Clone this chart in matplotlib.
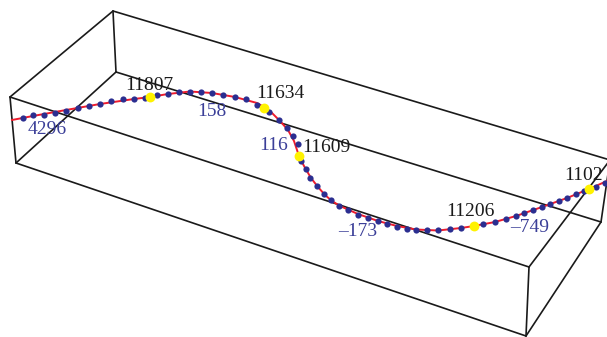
# -*- coding: utf-8 -*-
import matplotlib
import matplotlib.pyplot as plt

matplotlib.use("Agg")

# box corners, picture coordinates
corner_x = [10, 113, 16, 116, 529, 526, 610, 601]
corner_y = [97, 11, 163, 72, 267, 336, 160, 222]
edges = [(0, 1), (0, 2), (1, 3), (2, 3), (0, 4), (2, 5), (4, 5), (1, 6), (3, 7), (4, 6), (5, 7), (6, 7)]

# red curve, picture coordinates
curve_x = [12, 33, 66, 100, 134, 150, 168, 190, 212, 235, 257, 264, 272, 280, 288, 294, 299, 304, 311,
           318, 325, 332, 340, 358, 378, 397, 416, 438, 461, 474, 495, 516, 542, 567, 589, 607]
curve_y = [120, 116, 110, 104, 99, 97, 94, 91.5, 93, 97, 103, 107, 113, 121, 130, 141, 156, 166, 178,
           187, 195, 201, 206, 214, 221, 226, 229.5, 230.5, 228, 226, 222, 216, 207, 198, 189, 181]

# blue dots
dot_x = [22.7, 33, 44, 55.3, 66.3, 77.7, 89, 100, 111.3, 122.7, 133.7, 145, 156.7, 167.7, 178.7, 190, 201,
         212.3, 223.3, 234.7, 246, 257.3, 268.7, 279.3, 287, 293, 298, 301, 306, 310.3, 317, 323.7, 330.7,
         339.3, 348.3, 358, 367.7, 377.7, 387.3, 396.7, 406.7, 416.3, 427.3, 438.3, 449.7, 461, 483.3,
         494.7, 505.7, 516, 524.3, 533, 541.7, 550, 558.7, 567.3, 576, 584, 595.7, 605.3]
dot_y = [118.3, 114.7, 114.7, 112.7, 110.7, 108.3, 106, 103.7, 101.3, 99, 99, 98, 95.3, 93.7, 92, 92, 92,
         93.3, 94.7, 97, 99.3, 104.7, 111.7, 120, 127.7, 136, 144.3, 161.3, 169, 177.7, 185.7, 193.7, 200,
         206, 210, 214.7, 217.7, 221, 223.7, 226.7, 229, 229.7, 230.3, 230.3, 229, 228, 224.3,
         221.7, 218.7, 216, 213.3, 210.3, 207.3, 204, 200.7, 197.7, 194, 190.7, 187, 182.7]

# yellow points and their labels
point_x = [150.3, 264, 299.3, 473.7, 589]
point_y = [96.7, 107.7, 156.3, 226.3, 189]
point_labels = ["11807", "11634", "11609", "11206", "1102"]
point_label_x = [149, 280, 326, 470, 584]
point_label_y = [85, 94, 148, 212, 176]

# blue labels between the points
gap_labels = ["4296", "158", "116", "\u2013173", "\u2013749"]
gap_label_x = [47, 212, 274, 358, 530]
gap_label_y = [130, 112, 146, 232, 227]

fig = plt.figure(figsize=(6.07, 3.37), dpi=100)
ax = fig.add_axes([0, 0, 1, 1])
ax.set_xlim(0, 607)
ax.set_ylim(337, 0)
ax.axis("off")

for a, b in edges:
    ax.plot([corner_x[a], corner_x[b]], [corner_y[a], corner_y[b]], color="#1a1a1a", lw=1.2, zorder=1,
            solid_capstyle="round")

ax.plot(curve_x, curve_y, color="#ee1c2e", lw=1.4, zorder=2)
ax.scatter(dot_x, dot_y, s=20, color="#2b2e90", linewidths=0, zorder=3)
ax.scatter(point_x, point_y, s=50, color="#fff200", linewidths=0, zorder=4)

for x, y, s in zip(point_label_x, point_label_y, point_labels):
    ax.text(x, y, s, family="Liberation Serif", fontsize=14, color="#1a1a1a", ha="center", va="center", zorder=5)
for x, y, s in zip(gap_label_x, gap_label_y, gap_labels):
    ax.text(x, y, s, family="Liberation Serif", fontsize=14, color="#3b3f98", ha="center", va="center", zorder=5)

plt.savefig("out.png", dpi=100)
